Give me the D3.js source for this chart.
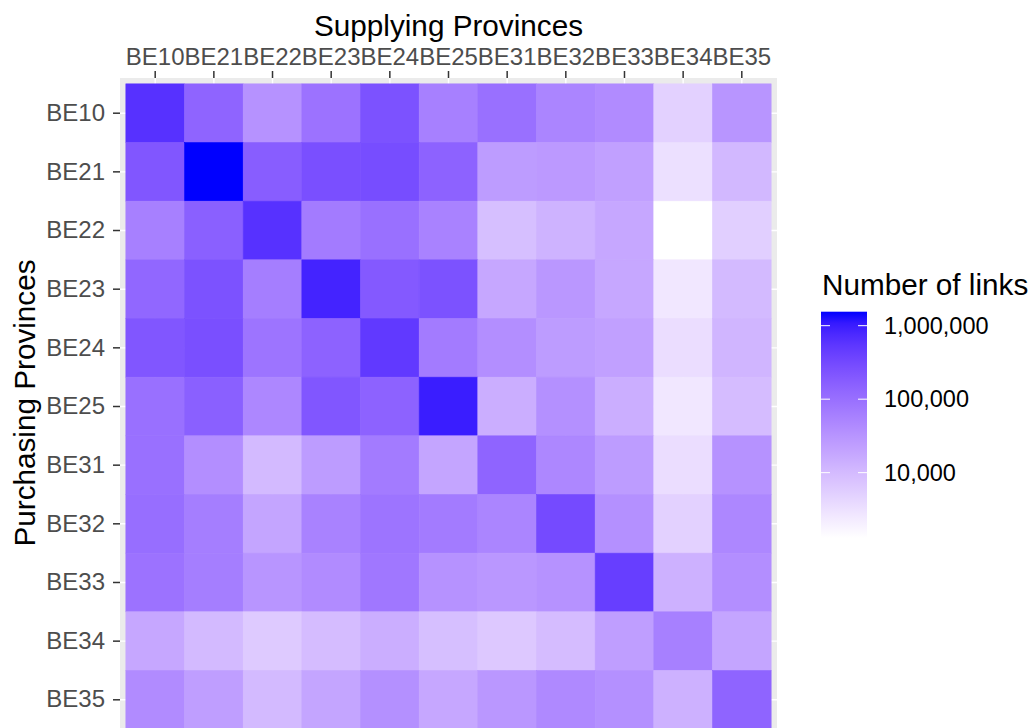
<!DOCTYPE html>
<html>
<head>
<meta charset="utf-8">
<script src="https://cdn.jsdelivr.net/npm/d3@7"></script>
<style>
  body { margin: 0; background: #fff; }
  text { font-family: "Liberation Sans", Arial, sans-serif; }
</style>
</head>
<body>
<script>
// provinces, same order on both axes
const provinces = ["BE10","BE21","BE22","BE23","BE24","BE25","BE31","BE32","BE33","BE34","BE35"];

// number of links, one row per purchasing province, columns = supplying province
const be10 = [616600, 139000, 33650, 90780, 244900, 59430, 97500, 51520, 41690, 4966, 31400];
const be21 = [212800, 1550000, 172200, 263000, 282500, 149300, 25350, 27230, 22030, 3243, 10840];
const be22 = [59430, 160300, 616600, 68390, 97500, 55340, 8750, 12470, 17780, 1291, 5333];
const be23 = [129400, 244900, 63680, 879000, 198200, 244900, 17780, 29240, 17780, 2624, 10090];
const be24 = [212800, 263000, 84720, 149300, 497700, 68390, 38810, 25350, 22030, 3483, 11610];
const be25 = [97500, 160300, 47970, 212800, 149300, 1012000, 14380, 36140, 14380, 2624, 9397];
const be31 = [97500, 38810, 10090, 25350, 68390, 19100, 139000, 47970, 25350, 3483, 33650];
const be32 = [104700, 63680, 19100, 55340, 84720, 68390, 51520, 303400, 36140, 4966, 47970];
const be33 = [90780, 63680, 31400, 41690, 78890, 33650, 29240, 33650, 432500, 13390, 38810];
const be34 = [17780, 10090, 6138, 9397, 14380, 8750, 6592, 9397, 23610, 59430, 19100];
const be35 = [41690, 23610, 10090, 19100, 36140, 17780, 29240, 44770, 36140, 13390, 139000];
const rows = [be10, be21, be22, be23, be24, be25, be31, be32, be33, be34, be35];

const legendTicks = [10000, 100000, 1000000];

const W = 1032, H = 728;
const panel = {left: 120, top: 78, size: 657};

const cells = [];
rows.forEach(function(r, i){
  r.forEach(function(v, j){
    cells.push({buyer: provinces[i], supplier: provinces[j], value: v});
  });
});

const svg = d3.select("body").append("svg")
  .attr("width", W).attr("height", H);

const x = d3.scaleBand().domain(provinces)
  .range([panel.left, panel.left + panel.size])
  .paddingInner(0).paddingOuter(0.1);
const y = d3.scaleBand().domain(provinces)
  .range([panel.top, panel.top + panel.size])
  .paddingInner(0).paddingOuter(0.1);

const extent = d3.extent(cells, d => d.value);
const color = d3.scaleLog().domain(extent)
  .range(["white", "blue"]).interpolate(d3.interpolateLab);

// panel background + grid
svg.append("rect")
  .attr("x", panel.left).attr("y", panel.top)
  .attr("width", panel.size).attr("height", panel.size)
  .attr("fill", "#EBEBEB");

svg.append("g").selectAll("line.vx")
  .data(provinces).enter().append("line")
  .attr("x1", d => x(d) + x.bandwidth()/2).attr("x2", d => x(d) + x.bandwidth()/2)
  .attr("y1", panel.top).attr("y2", panel.top + panel.size)
  .attr("stroke", "#fff").attr("stroke-width", 1.4);
svg.append("g").selectAll("line.hy")
  .data(provinces).enter().append("line")
  .attr("y1", d => y(d) + y.bandwidth()/2).attr("y2", d => y(d) + y.bandwidth()/2)
  .attr("x1", panel.left).attr("x2", panel.left + panel.size)
  .attr("stroke", "#fff").attr("stroke-width", 1.4);

// tiles
svg.append("g").selectAll(".tile")
  .data(cells).enter().append("rect")
  .classed("tile", true)
  .attr("x", d => x(d.supplier))
  .attr("y", d => y(d.buyer))
  .attr("width", x.bandwidth())
  .attr("height", y.bandwidth())
  .attr("fill", d => color(d.value))
  .attr("stroke", d => color(d.value))
  .attr("stroke-width", 0.6);

// axes
const xAxis = svg.append("g")
  .attr("transform", "translate(0," + panel.top + ")")
  .call(d3.axisTop(x).tickSize(7).tickPadding(6));
const yAxis = svg.append("g")
  .attr("transform", "translate(" + panel.left + ",0)")
  .call(d3.axisLeft(y).tickSize(7).tickPadding(8));

[xAxis, yAxis].forEach(function(a){
  a.select(".domain").remove();
  a.selectAll(".tick line").attr("stroke", "#333333").attr("stroke-width", 1.5);
  a.selectAll(".tick text")
    .attr("fill", "#4D4D4D")
    .style("font-size", "24px")
    .style("font-family", "'Liberation Sans', Arial, sans-serif");
});

// axis titles
svg.append("text")
  .attr("x", panel.left + panel.size/2).attr("y", 35.5)
  .attr("text-anchor", "middle")
  .style("font-size", "29.7px")
  .text("Supplying Provinces");

svg.append("text")
  .attr("transform", "translate(35,403) rotate(-90)")
  .attr("text-anchor", "middle")
  .style("font-size", "29.7px")
  .text("Purchasing Provinces");

// legend
const bar = {x: 821, top: 311.7, bottom: 538, w: 46};
const legendY = d3.scaleLog().domain(extent).range([bar.bottom, bar.top]);

const grad = svg.append("defs").append("linearGradient")
  .attr("id", "grad").attr("x1", 0).attr("y1", 1).attr("x2", 0).attr("y2", 0);
grad.selectAll("stop")
  .data(d3.range(0, 1.0001, 0.05)).enter().append("stop")
  .attr("offset", d => d)
  .attr("stop-color", d => color(Math.pow(10, Math.log10(extent[0]) + d * (Math.log10(extent[1]) - Math.log10(extent[0])))));

svg.append("rect")
  .attr("x", bar.x).attr("y", bar.top)
  .attr("width", bar.w).attr("height", bar.bottom - bar.top)
  .attr("fill", "url(#grad)");

const lg = svg.append("g");
legendTicks.forEach(function(t){
  const ty = legendY(t);
  lg.append("line").attr("x1", bar.x).attr("x2", bar.x + 9)
    .attr("y1", ty).attr("y2", ty).attr("stroke", "#fff").attr("stroke-width", 1);
  lg.append("line").attr("x1", bar.x + bar.w - 9).attr("x2", bar.x + bar.w)
    .attr("y1", ty).attr("y2", ty).attr("stroke", "#fff").attr("stroke-width", 1);
  lg.append("text").attr("x", 884).attr("y", ty).attr("dy", "0.35em")
    .style("font-size", "23.5px").attr("fill", "#000")
    .text(d3.format(",")(t));
});

svg.append("text")
  .attr("x", 822).attr("y", 295)
  .style("font-size", "29.7px")
  .text("Number of links");
</script>
</body>
</html>
